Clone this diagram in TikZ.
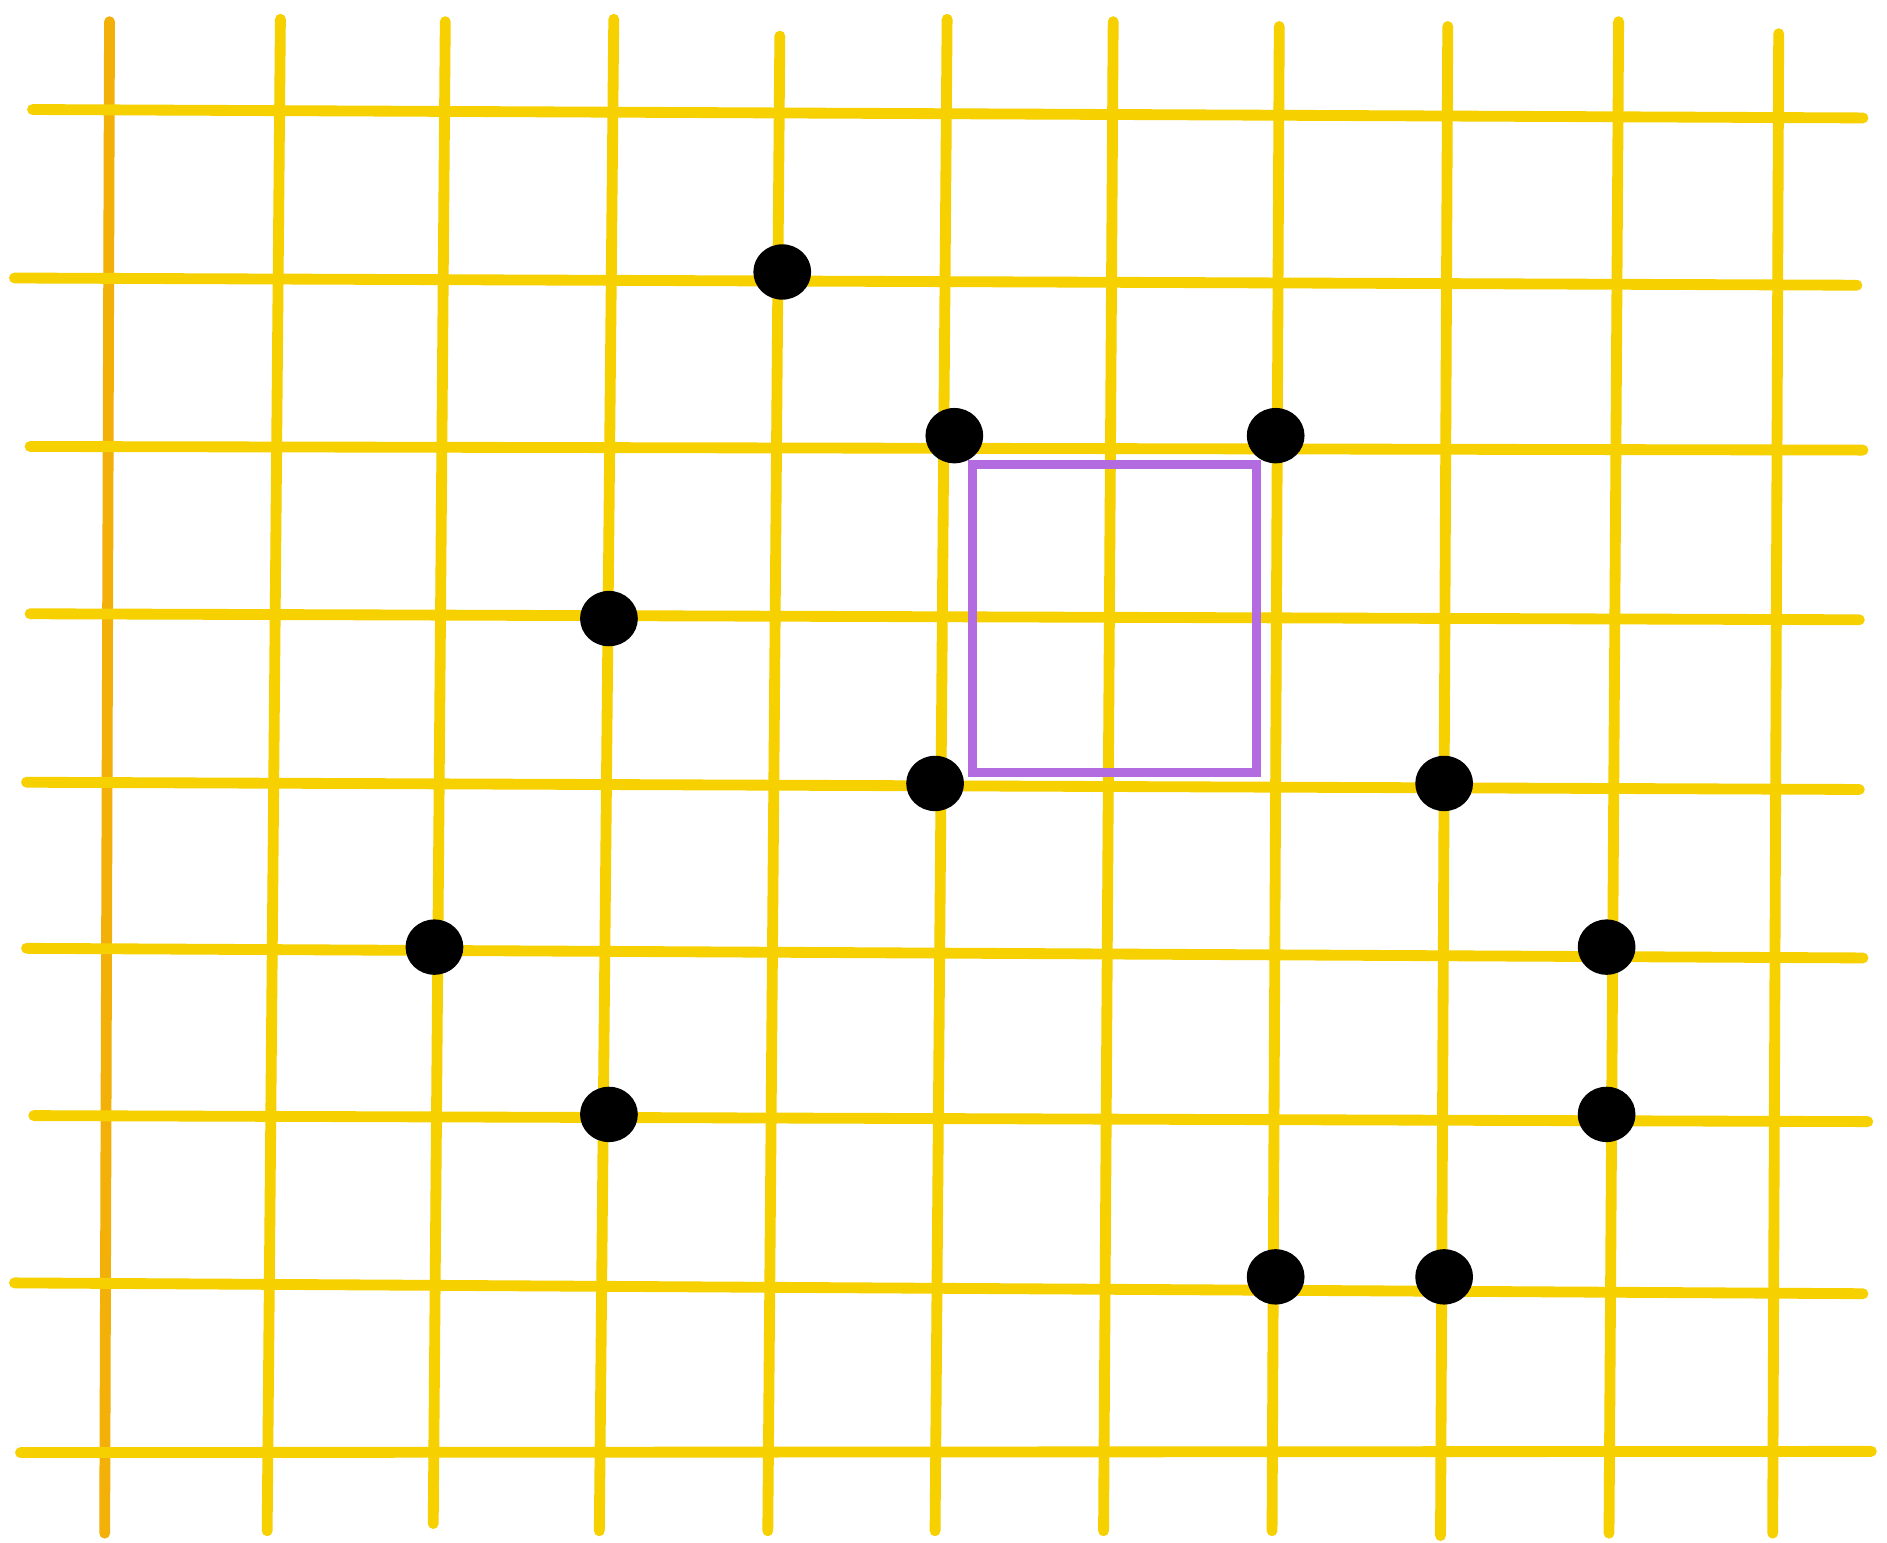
\documentclass[tikz,border=0pt]{standalone}
\usetikzlibrary{shapes.geometric}
\definecolor{gridgold}{RGB}{247,208,0}
\definecolor{gridorange}{RGB}{242,176,8}
\definecolor{boxpurple}{RGB}{179,107,224}
\tikzset{
  gridline/.style={draw=gridgold,line width=9pt,line cap=round},
  gridleft/.style={draw=gridorange,line width=9pt,line cap=round},
  dot/.style={ellipse,fill=black,minimum width=48pt,minimum height=46pt,inner sep=0pt},
  markbox/.style={draw=boxpurple,line width=8pt}
}
\begin{document}
\begin{tikzpicture}[x=1pt,y=-1pt]
\useasboundingbox (0,0) rectangle (1568,1282);
\fill[white] (0,0) rectangle (1568,1282);
% vertical lines
\draw[gridleft] (91,18) -- (87,1274);
\draw[gridline] (233,16) -- (222,1272);
\draw[gridline] (370,18) -- (360,1266);
\draw[gridline] (510,16) -- (498,1272);
\draw[gridline] (648,30) -- (638,1272);
\draw[gridline] (787,16) -- (777,1272);
\draw[gridline] (925,18) -- (917,1272);
\draw[gridline] (1063,22) -- (1057,1272);
\draw[gridline] (1203,22) -- (1197,1276);
\draw[gridline] (1345,18) -- (1337,1274);
\draw[gridline] (1478,28) -- (1473,1274);
% horizontal lines
\draw[gridline] (27,91) -- (1548,98);
\draw[gridline] (12,231) -- (1543,237);
\draw[gridline] (25,371) -- (1548,374);
\draw[gridline] (25,510) -- (1545,515);
\draw[gridline] (22,650) -- (1545,656);
\draw[gridline] (22,788) -- (1548,796);
\draw[gridline] (28,927) -- (1552,932);
\draw[gridline] (12,1066) -- (1548,1075);
\draw[gridline] (17,1207) -- (1555,1206);
% purple box
\draw[markbox] (808,386) rectangle (1044,642);
% dots
\node[dot] (d1) at (650,226) {};
\node[dot] (d2) at (793,362) {};
\node[dot] (d3) at (1060,362) {};
\node[dot] (d4) at (506,514) {};
\node[dot] (d5) at (777,651) {};
\node[dot] (d6) at (1200,651) {};
\node[dot] (d7) at (361,787) {};
\node[dot] (d8) at (1335,787) {};
\node[dot] (d9) at (506,926) {};
\node[dot] (d10) at (1335,926) {};
\node[dot] (d11) at (1060,1061) {};
\node[dot] (d12) at (1200,1061) {};
\end{tikzpicture}
\end{document}
